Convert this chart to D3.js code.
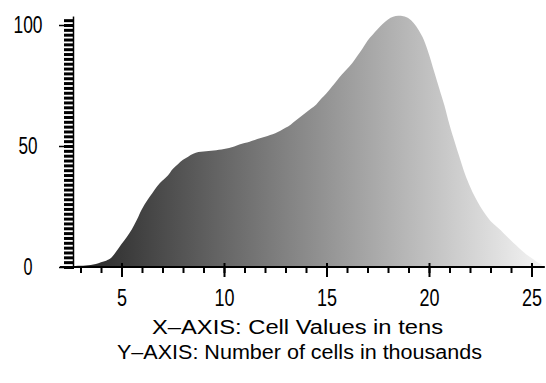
<!DOCTYPE html>
<html>
<head>
<meta charset="utf-8">
<script src="https://cdn.jsdelivr.net/npm/d3@7/dist/d3.min.js"></script>
<style>
  body { margin: 0; background: #fff; }
  text { font-family: "Liberation Sans", Arial, sans-serif; fill: #000; }
</style>
</head>
<body>
<div id="chart"></div>
<script>
var svgWidth = 546;
var svgHeight = 383;

// cell values (tens) and number of cells (thousands)
var cellValues = d3.range(2.75, 25.75, 0.25);
var cellCounts = [
  0.4, 0.5, 0.6, 0.8, 1.2, 2.0, 2.6, 3.8, 6.5, 9.5,
  12.3, 15.5, 19.5, 24, 27.5, 30.5, 33.5, 35.7, 37.7, 40.5,
  42.5, 44.3, 45.6, 46.8, 47.5, 47.7, 47.9, 48.1, 48.4, 48.8,
  49.2, 49.8, 50.6, 51.2, 51.8, 52.5, 53.2, 53.8, 54.5, 55.3,
  56.3, 57.5, 58.8, 60.5, 62.2, 63.8, 65.5, 67.2, 69.6, 71.8,
  74.4, 77, 79.5, 81.8, 84.2, 87.2, 90.2, 93.5, 96, 98.3,
  100.5, 102.3, 103.4, 103.8, 103.6, 102.8, 100.8, 97.8, 93.8, 87.8,
  80.8, 73.8, 66.8, 58.8, 51.8, 45, 38.5, 33.3, 28.8, 25,
  21.8, 19, 17, 15.2, 13, 11, 9, 7, 5.2, 3.7,
  2.2, 1.0
];
var xMajorTicks = [5, 10, 15, 20, 25];
var xMinorTicks = d3.range(3, 26, 1);
var yMajorTicks = [0, 50, 100];
var yMinorTicks = d3.range(0, 104, 2);
var xTitle = "X\u2013AXIS: Cell Values in tens";
var yTitle = "Y\u2013AXIS: Number of cells in thousands";

var Data = cellValues.map(function(v, i) {
  return { value: v, count: cellCounts[i] };
});

var svg = d3.select("#chart")
  .append("svg")
  .attr("width", svgWidth)
  .attr("height", svgHeight);

var xScale = d3.scaleLinear()
  .domain([5, 25])
  .range([121.5, 531.5]);

var yScale = d3.scaleLinear()
  .domain([0, 100])
  .range([267, 25]);

var grey = d3.scaleLinear()
  .domain([2.75, 25.5])
  .range(["#252525", "#f3f3f3"]);

// gradient fill, dark on the left to light on the right
var grad = svg.append("defs").append("linearGradient")
  .attr("id", "fillGrad")
  .attr("gradientUnits", "userSpaceOnUse")
  .attr("x1", xScale(2.75)).attr("x2", xScale(25.5))
  .attr("y1", 0).attr("y2", 0);

grad.selectAll("stop")
  .data([2.75, 25.5])
  .enter()
  .append("stop")
  .attr("offset", (d, i) => i * 100 + "%")
  .attr("stop-color", d => grey(d));

var area = d3.area()
  .x(d => xScale(d.value))
  .y0(yScale(0))
  .y1(d => yScale(d.count))
  .curve(d3.curveMonotoneX);

svg.append("path")
  .datum(Data)
  .attr("d", area)
  .attr("fill", "url(#fillGrad)");

// x axis
svg.append("line")
  .attr("x1", xScale(2)).attr("x2", xScale(25.65))
  .attr("y1", yScale(0)).attr("y2", yScale(0))
  .attr("stroke", "#000")
  .attr("stroke-width", 2);

var xMinor = svg.append("g")
  .attr("transform", `translate(0, ${yScale(0)})`)
  .call(d3.axisBottom(xScale).tickValues(xMinorTicks).tickSize(6).tickFormat(""));
xMinor.select(".domain").remove();
xMinor.selectAll(".tick line").attr("stroke-width", 2);

var xMajor = svg.append("g")
  .attr("transform", `translate(0, ${yScale(0)})`)
  .call(d3.axisBottom(xScale).tickValues(xMajorTicks).tickSize(10).tickPadding(13));
xMajor.select(".domain").remove();
xMajor.selectAll(".tick line").attr("y1", -4).attr("stroke-width", 2);
xMajor.selectAll(".tick text")
  .attr("font-size", 23)
  .attr("textLength", d => String(d).length * 10)
  .attr("lengthAdjust", "spacingAndGlyphs");

// y axis: dense striped ticks
var yMinor = svg.append("g")
  .attr("transform", "translate(74, 0)")
  .call(d3.axisLeft(yScale).tickValues(yMinorTicks).tickSize(10).tickFormat(""));
yMinor.select(".domain").remove();
yMinor.selectAll(".tick line").attr("stroke-width", 3);

svg.append("line")
  .attr("x1", 73.5).attr("x2", 73.5)
  .attr("y1", yScale(0)).attr("y2", yScale(103.5))
  .attr("stroke", "#000")
  .attr("stroke-width", 1.5);

var yMajor = svg.append("g")
  .attr("transform", "translate(74, 0)")
  .call(d3.axisLeft(yScale).tickValues(yMajorTicks).tickSize(15).tickPadding(0));
yMajor.select(".domain").remove();
yMajor.selectAll(".tick line").attr("stroke-width", 1.5);
yMajor.selectAll(".tick text")
  .attr("x", -46)
  .attr("text-anchor", "middle")
  .attr("font-size", 23)
  .attr("textLength", d => String(d).length * 10 - 1)
  .attr("lengthAdjust", "spacingAndGlyphs");

// axis titles
svg.append("text")
  .attr("x", 297.5)
  .attr("y", 334)
  .attr("text-anchor", "middle")
  .attr("font-size", 19.5)
  .attr("textLength", 291)
  .attr("lengthAdjust", "spacingAndGlyphs")
  .text(xTitle);

svg.append("text")
  .attr("x", 299.5)
  .attr("y", 359)
  .attr("text-anchor", "middle")
  .attr("font-size", 19.5)
  .attr("textLength", 365)
  .attr("lengthAdjust", "spacingAndGlyphs")
  .text(yTitle);
</script>
</body>
</html>
